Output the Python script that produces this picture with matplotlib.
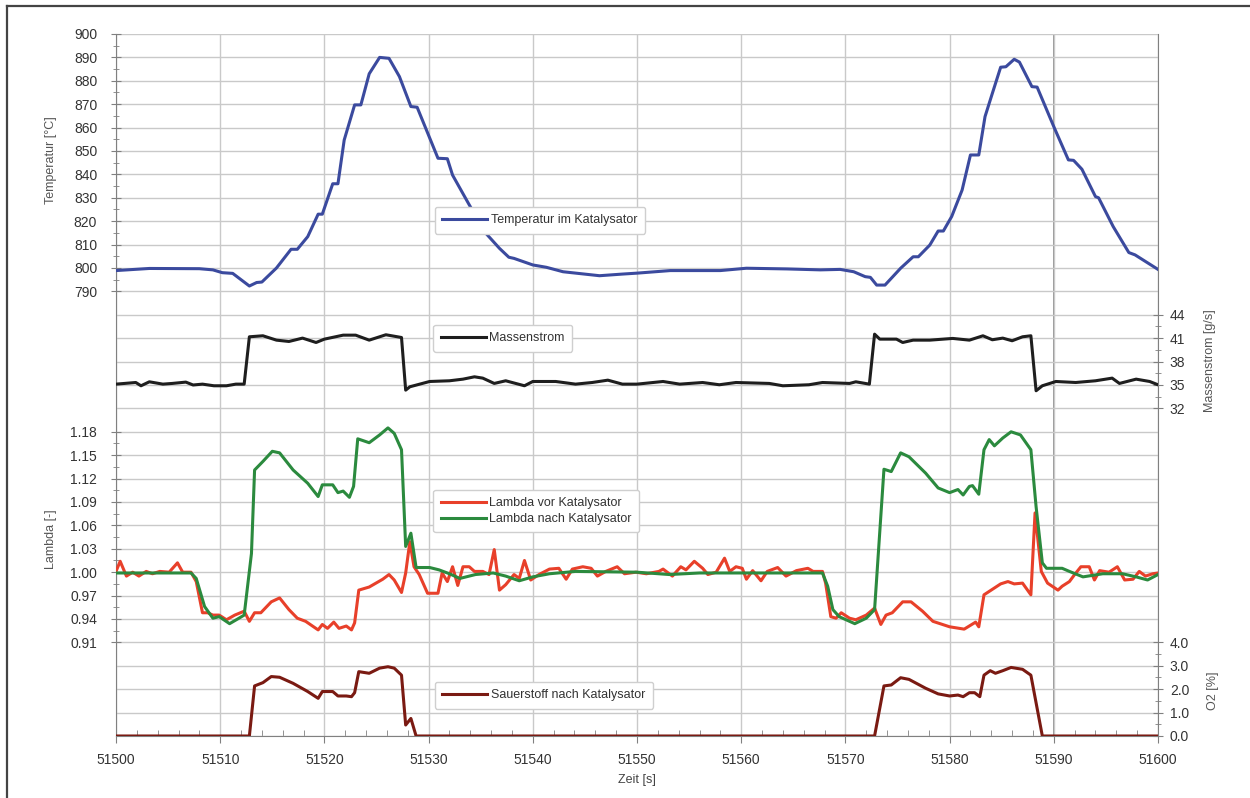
import numpy as np
import matplotlib
matplotlib.use("Agg")
import matplotlib.pyplot as plt
from matplotlib.lines import Line2D
from matplotlib.ticker import FixedLocator, FormatStrFormatter, MultipleLocator

plt.rcParams['font.family'] = ['Liberation Sans', 'DejaVu Sans']

# --- data (time in s) ---
temp_t = [51500, 51503.2, 51508, 51509.3, 51510.2, 51511.2, 51512.8, 51513.5, 51514, 51515.4,
          51516.8, 51517.4, 51518.4, 51519.4, 51519.8, 51520.8, 51521.3, 51521.9, 51522.9, 51523.5,
          51524.3, 51525.3, 51526.2, 51527.2, 51528.3, 51528.9, 51530.9, 51531.8, 51532.3, 51533.9,
          51535.5, 51536.8, 51537.7, 51538.2, 51540, 51541.3, 51542.9, 51546.4, 51548.6, 51550,
          51553.2, 51558, 51560.5, 51564.4, 51567.6, 51569.5, 51570.8, 51571.9, 51572.4, 51573.0,
          51573.8, 51575.3, 51576.5, 51577.0, 51578.1, 51578.9, 51579.4, 51580.2, 51581.2, 51582.0,
          51582.8, 51583.4, 51584.1, 51584.9, 51585.4, 51586.2, 51586.7, 51587.9, 51588.4, 51590,
          51591.4, 51591.9, 51592.7, 51594.0, 51594.3, 51595.7, 51597.2, 51597.8, 51600]
temp_v = [798.9, 799.8, 799.7, 799.2, 798.0, 797.7, 792.3, 793.8, 794.0, 800.0,
          808.0, 808.0, 813.4, 823.0, 823.0, 836.0, 836.0, 854.7, 869.7, 869.7,
          883.0, 890.0, 889.6, 881.8, 869.0, 868.7, 846.9, 846.7, 839.7, 827.0,
          814.8, 808.4, 804.6, 804.1, 801.3, 800.3, 798.4, 796.7, 797.4, 797.8,
          798.9, 798.9, 799.9, 799.6, 799.2, 799.4, 798.4, 796.3, 796.0, 792.7,
          792.7, 799.9, 804.8, 804.8, 809.8, 815.8, 815.8, 822.0, 833.3, 848.3,
          848.3, 864.7, 874.6, 885.8, 886.0, 889.2, 888.0, 877.5, 877.3, 860.4,
          846.2, 846.0, 842.2, 830.5, 830.0, 817.7, 806.6, 805.6, 799.4]

mass_t = [51500, 51501.9, 51502.4, 51503.2, 51504.5, 51505.4, 51506.7, 51507.4, 51508.3, 51509.4,
          51510.6, 51511.5, 51512.3, 51512.8, 51514.1, 51515.4, 51516.6, 51517.9, 51519.2, 51520.0,
          51521.8, 51523.0, 51524.3, 51525.9, 51527.4, 51527.8, 51528.2, 51530.1, 51532.0, 51533.3,
          51534.4, 51535.2, 51536.3, 51537.4, 51539.2, 51540.0, 51542.2, 51544.1, 51545.7, 51547.2,
          51548.6,
          51550.0, 51552.5, 51554.1, 51556.3, 51557.9, 51559.5, 51562.7, 51564.0, 51566.5, 51567.8,
          51570.4, 51571.0, 51572.3, 51572.8, 51573.3, 51574.9, 51575.5, 51576.5, 51578.1, 51580.3,
          51581.9, 51583.2, 51584.1, 51585.1, 51586.0, 51587.0, 51587.8, 51588.3, 51588.9, 51590.2,
          51592.1, 51594.0, 51595.6, 51596.3, 51597.9, 51599.2, 51600]
mass_v = [35.11, 35.32, 34.9, 35.41, 35.11, 35.2, 35.37, 35.0, 35.11, 34.9,
          34.9, 35.11, 35.11, 41.18, 41.31, 40.75, 40.58, 41.01, 40.45, 40.88,
          41.39, 41.39, 40.75, 41.44, 41.09, 34.34, 34.77, 35.45, 35.54, 35.75,
          36.05, 35.88, 35.2, 35.54, 34.9, 35.45, 35.45, 35.11, 35.32, 35.62,
          35.11,
          35.11, 35.45, 35.11, 35.32, 35.03, 35.32, 35.2, 34.9, 35.03, 35.32,
          35.2, 35.41, 35.11, 41.52, 40.88, 40.88, 40.45, 40.75, 40.75, 40.97,
          40.75, 41.31, 40.8, 41.01, 40.67, 41.18, 41.31, 34.26, 34.9, 35.45,
          35.32, 35.54, 35.88, 35.2, 35.75, 35.45, 35.03]

lam_nach_t = [51500, 51507.2, 51507.7, 51508.5, 51509.3, 51509.9, 51510.9, 51511.8, 51512.3, 51513.0,
              51513.3, 51514.1, 51515.0, 51515.7, 51517.0, 51518.4, 51519.4, 51519.8, 51520.8, 51521.3,
              51521.8, 51522.4, 51522.8, 51523.2, 51524.3, 51525.3, 51526.1, 51526.7, 51527.4, 51527.8,
              51528.3, 51528.8, 51530.1, 51531.0, 51532.0, 51533.0, 51534.5, 51536.2, 51537.4, 51538.7,
              51540.0, 51541.6, 51544.1, 51550.0, 51553.1, 51556.0, 51567.8, 51568.3, 51568.8, 51569.4,
              51570.9, 51572.0, 51572.8, 51573.7, 51574.4, 51575.3, 51576.1, 51577.7, 51578.9, 51580.0,
              51580.8, 51581.3, 51581.9, 51582.2, 51582.8, 51583.3, 51583.8, 51584.3, 51585.1, 51585.9,
              51586.8, 51587.8, 51588.3, 51588.9, 51589.3, 51590.8, 51591.5, 51592.8, 51594.7, 51596.6,
              51597.9, 51599.0, 51600]
lam_nach_v = [0.999, 0.999, 0.992, 0.956, 0.941, 0.943, 0.934, 0.941, 0.945, 1.024,
              1.131, 1.142, 1.155, 1.153, 1.131, 1.114, 1.097, 1.112, 1.112, 1.102,
              1.104, 1.096, 1.110, 1.171, 1.166, 1.176, 1.185, 1.178, 1.157, 1.033,
              1.050, 1.006, 1.006, 1.003, 0.998, 0.992, 0.997, 0.999, 0.995, 0.989,
              0.994, 0.998, 1.001, 1.000, 0.997, 0.999, 0.999, 0.982, 0.952, 0.943,
              0.934, 0.941, 0.952, 1.132, 1.129, 1.153, 1.148, 1.127, 1.108, 1.102,
              1.106, 1.099, 1.110, 1.111, 1.100, 1.157, 1.170, 1.162, 1.172, 1.180,
              1.176, 1.157, 1.084, 1.012, 1.005, 1.005, 1.001, 0.994, 0.998, 0.998,
              0.994, 0.990, 0.997]

lam_vor_t = [51500, 51500.4, 51501.0, 51501.6, 51502.2, 51502.9, 51503.5, 51504.2, 51505.1, 51505.9,
             51506.4, 51507.2, 51507.7, 51508.3, 51508.8, 51509.3, 51509.9, 51510.6, 51511.4, 51512.3,
             51512.8, 51513.3, 51513.9, 51514.9, 51515.7, 51516.6, 51517.4, 51518.2, 51519.4, 51519.8,
             51520.3, 51520.9, 51521.4, 51522.1, 51522.6, 51522.9, 51523.3, 51524.3, 51525.6, 51526.2,
             51526.7, 51527.4, 51527.8, 51528.2, 51528.6, 51529.1, 51529.9, 51530.9, 51531.3, 51531.8,
             51532.3, 51532.8, 51533.3, 51533.9, 51534.4, 51535.2, 51535.8, 51536.3, 51536.8, 51537.4,
             51538.2, 51538.7, 51539.2, 51539.8, 51540.6, 51541.6, 51542.5, 51543.2, 51543.8, 51544.8,
             51545.6, 51546.2, 51547.0, 51548.1, 51548.8,
             51549.9, 51550.9, 51552.1, 51552.5, 51553.4, 51554.2, 51554.7, 51555.5, 51556.3, 51556.8,
             51557.6, 51558.4, 51558.9, 51559.5, 51560.1, 51560.5, 51561.1, 51561.9, 51562.5, 51563.5,
             51564.3, 51565.3, 51566.4, 51566.9, 51567.8, 51568.1, 51568.6, 51569.1, 51569.6, 51570.4,
             51571.0, 51572.0, 51572.8, 51573.4, 51573.9, 51574.5, 51575.5, 51576.3, 51577.4, 51578.4,
             51580.0, 51581.4, 51582.5, 51582.8, 51583.3, 51584.1, 51584.9, 51585.6, 51586.2, 51587.0,
             51587.8, 51588.2, 51588.8, 51589.4, 51590.4, 51590.8, 51591.5, 51592.0, 51592.6, 51593.4,
             51593.9, 51594.4, 51595.3, 51596.1, 51596.8, 51597.6, 51598.2, 51598.8, 51599.5, 51600]
lam_vor_v = [1.001, 1.014, 0.995, 1.000, 0.995, 1.001, 0.998, 1.001, 1.000, 1.012,
             1.000, 1.000, 0.988, 0.948, 0.948, 0.945, 0.945, 0.939, 0.945, 0.950,
             0.937, 0.948, 0.948, 0.962, 0.967, 0.952, 0.941, 0.937, 0.926, 0.933,
             0.928, 0.936, 0.928, 0.931, 0.926, 0.935, 0.977, 0.981, 0.991, 0.997,
             0.990, 0.974, 0.999, 1.039, 1.007, 0.997, 0.973, 0.973, 0.999, 0.988,
             1.007, 0.983, 1.007, 1.007, 1.001, 1.001, 0.997, 1.029, 0.977, 0.984,
             0.997, 0.992, 1.015, 0.990, 0.997, 1.004, 1.005, 0.991, 1.004, 1.007,
             1.005, 0.995, 1.001, 1.007, 0.998,
             1.000, 0.998, 1.001, 1.004, 0.995, 1.007, 1.003, 1.014, 1.005, 0.997,
             1.000, 1.018, 1.001, 1.007, 1.005, 0.991, 1.002, 0.989, 1.001, 1.006,
             0.995, 1.002, 1.005, 1.001, 1.001, 0.986, 0.943, 0.941, 0.948, 0.941,
             0.939, 0.945, 0.954, 0.933, 0.945, 0.948, 0.962, 0.962, 0.950, 0.937,
             0.930, 0.927, 0.936, 0.930, 0.971, 0.978, 0.985, 0.988, 0.985, 0.986,
             0.971, 1.076, 1.001, 0.986, 0.977, 0.982, 0.988, 0.997, 1.007, 1.007,
             0.990, 1.002, 1.000, 1.007, 0.990, 0.991, 1.001, 0.995, 0.998, 0.999]

o2_t = [51500, 51512.8, 51513.3, 51514.1, 51514.9, 51515.7, 51517.0, 51518.4, 51519.4, 51519.8,
        51520.8, 51521.3, 51522.1, 51522.6, 51522.9, 51523.3, 51524.3, 51525.3, 51526.1, 51526.7,
        51527.4, 51527.8, 51528.3, 51528.8,
        51572.8, 51573.7, 51574.4, 51575.3, 51576.1, 51577.7, 51578.9, 51580.0, 51580.8, 51581.3,
        51581.9, 51582.4, 51582.9, 51583.3, 51583.9, 51584.4, 51585.1, 51585.9, 51587.0, 51587.8,
        51588.9, 51600]
o2_v = [0, 0, 2.14, 2.28, 2.54, 2.51, 2.25, 1.90, 1.61, 1.90,
        1.90, 1.71, 1.71, 1.68, 1.85, 2.75, 2.68, 2.90, 2.96, 2.90,
        2.60, 0.47, 0.75, 0,
        0, 2.14, 2.18, 2.49, 2.42, 2.04, 1.80, 1.71, 1.75, 1.68,
        1.85, 1.85, 1.68, 2.60, 2.79, 2.68, 2.79, 2.93, 2.85, 2.60,
        0, 0]

temp_ticks = [790, 800, 810, 820, 830, 840, 850, 860, 870, 880, 890, 900]
mass_ticks = [32, 35, 38, 41, 44]
lam_ticks = [0.91, 0.94, 0.97, 1.00, 1.03, 1.06, 1.09, 1.12, 1.15, 1.18]
o2_ticks = [0.0, 1.0, 2.0, 3.0, 4.0]
cursor_t = 51590

# --- figure ---
fig = plt.figure(figsize=(12.5, 7.98), dpi=100)
ax = fig.add_subplot(111)
fig.subplots_adjust(left=0.0928, right=0.9264, top=0.9574, bottom=0.0777)

grid_c = '#c9c9c9'
spine_c = '#808080'
txt_c = '#333333'

# base axes: shared grid (30 equal bands) and time axis
ax.set_xlim(51500, 51600)
ax.set_ylim(0, 30)
ax.set_yticks(range(31))
ax.tick_params(axis='y', length=0, labelleft=False)
ax.xaxis.set_major_locator(MultipleLocator(10))
ax.xaxis.set_minor_locator(MultipleLocator(2))
ax.grid(True, which='major', color=grid_c, lw=1.0)
ax.set_axisbelow(True)
ax.tick_params(axis='x', which='major', direction='out', length=5, color=spine_c,
               labelsize=10, labelcolor=txt_c, pad=7)
ax.tick_params(axis='x', which='minor', direction='in', length=4, color=spine_c)
ax.axvline(cursor_t, color='#8c8c8c', lw=1.3, zorder=0.5)
ax.set_xlabel('Zeit [s]', fontsize=9, color='#444444', labelpad=5)
for s in ['left', 'right', 'bottom']:
    ax.spines[s].set_color(spine_c)
ax.spines['top'].set_visible(False)


def value_axis(side, lo, hi, ticks, minor, fmt, label, lab_x, lab_y):
    a = ax.twinx()
    a.set_ylim(lo, hi)
    for s in a.spines.values():
        s.set_visible(False)
    if side == 'left':
        a.yaxis.tick_left()
        a.yaxis.set_label_position('left')
    a.yaxis.set_major_locator(FixedLocator(ticks))
    a.yaxis.set_minor_locator(FixedLocator(minor))
    a.yaxis.set_major_formatter(FormatStrFormatter(fmt))
    a.tick_params(axis='y', which='major', direction='inout', length=7, color=spine_c,
                  labelsize=10, labelcolor=txt_c, pad=10 if side == 'left' else 5)
    a.tick_params(axis='y', which='minor', direction='inout', length=4, color=spine_c)
    a.set_ylabel(label, fontsize=9, color='#555555')
    a.yaxis.set_label_coords(lab_x, lab_y)
    return a


def halves(t):
    return [(a + b) / 2 for a, b in zip(t[:-1], t[1:])]


ax_t = value_axis('left', 600, 900, temp_ticks, halves(temp_ticks), '%d',
                  'Temperatur [°C]', -0.057, 0.82)
ax_l = value_axis('left', 0.79, 1.69, lam_ticks, halves(lam_ticks), '%.2f',
                  'Lambda [-]', -0.057, 0.28)
ax_m = value_axis('right', -10, 80, mass_ticks, halves(mass_ticks), '%d',
                  'Massenstrom [g/s]', 1.044, 0.535)
ax_o = value_axis('right', 0, 30, o2_ticks, halves(o2_ticks), '%.1f',
                  'O2 [%]', 1.047, 0.065)

lw = 2.2
ax_t.plot(temp_t, temp_v, color='#3b4a9e', lw=lw, label='Temperatur im Katalysator')
ax_m.plot(mass_t, mass_v, color='#1e1e1e', lw=lw, label='Massenstrom')
ax_l.plot(lam_vor_t, lam_vor_v, color='#e8402a', lw=lw, label='Lambda vor Katalysator')
ax_l.plot(lam_nach_t, lam_nach_v, color='#2b8a3e', lw=lw, label='Lambda nach Katalysator')
ax_o.plot(o2_t, o2_v, color='#7a1a12', lw=lw, label='Sauerstoff nach Katalysator')

leg_kw = dict(loc='center left', bbox_transform=fig.transFigure, fontsize=9,
              frameon=True, fancybox=True, framealpha=1, edgecolor='#cfcfcf',
              handlelength=3.6, handletextpad=0.3, borderpad=0.6, labelspacing=0.3,
              borderaxespad=0)
for a, pos in [(ax_t, (0.348, 0.7243)), (ax_m, (0.3464, 0.5764)),
               (ax_l, (0.3464, 0.3596)), (ax_o, (0.348, 0.129))]:
    leg = a.legend(bbox_to_anchor=pos, **leg_kw)
    for t in leg.get_texts():
        t.set_color(txt_c)

# outer frame (top and left edge visible in the reference)
fig.add_artist(Line2D([0.0056, 1.0], [0.9925, 0.9925], color='#444444', lw=1.6))
fig.add_artist(Line2D([0.0056, 0.0056], [0.0, 0.9925], color='#444444', lw=1.6))

fig.savefig('out.png', dpi=100)
